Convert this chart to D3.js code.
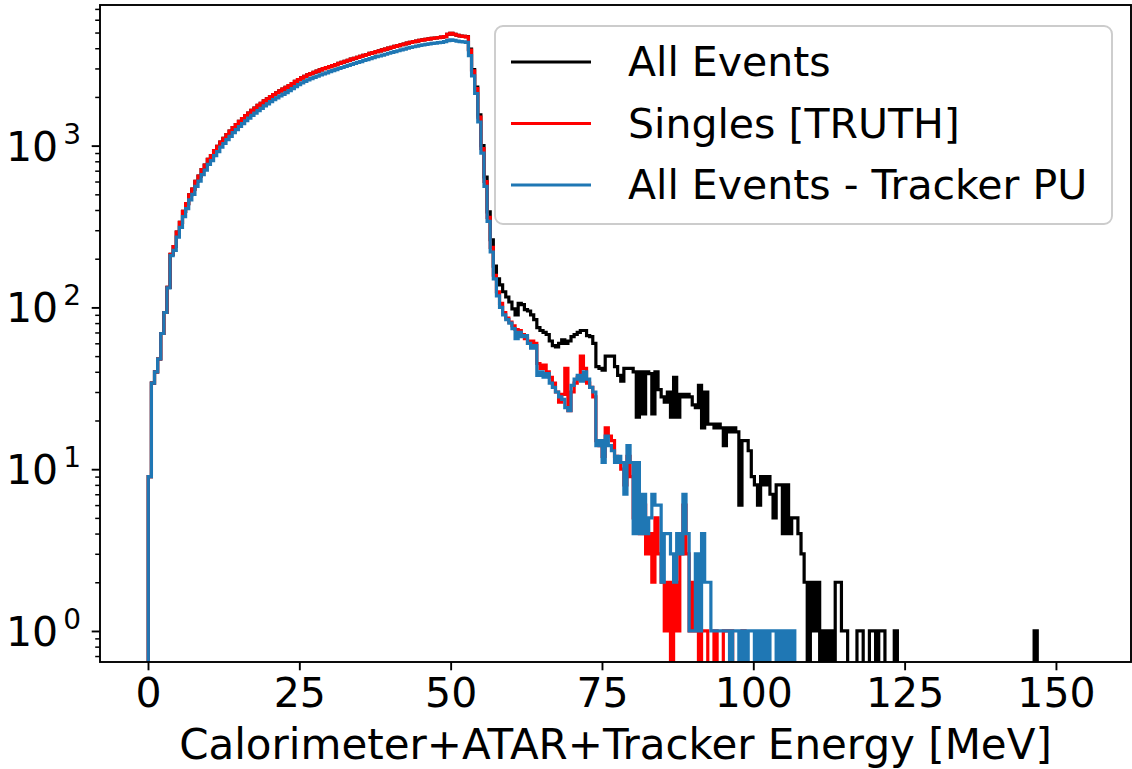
<!DOCTYPE html>
<html>
<head>
<meta charset="utf-8">
<script src="https://cdnjs.cloudflare.com/ajax/libs/d3/7.8.5/d3.min.js"></script>
<style>
body { margin: 0; background: #fff; }
svg text { font-family: "DejaVu Sans", sans-serif; fill: #000; }
</style>
</head>
<body>
<svg id="chart"></svg>
<script>
// histogram binning in MeV: 300 bins
const binStart = 0.05;
const binWidth = 0.5135;

const allEvents = [
  9, 34, 40, 48, 69, 93, 133, 213, 238, 292, 335, 392, 438, 497, 538, 602, 648, 712, 758, 822,
  868, 932, 988, 1052, 1108, 1172, 1228, 1292, 1348, 1412, 1468, 1532, 1588, 1652, 1708, 1772, 1828, 1892, 1948, 2012,
  2068, 2122, 2178, 2232, 2288, 2352, 2418, 2492, 2558, 2622, 2678, 2742, 2788, 2842, 2888, 2942, 2990, 3032, 3078, 3122,
  3168, 3222, 3268, 3322, 3368, 3422, 3468, 3512, 3558, 3612, 3658, 3712, 3762, 3812, 3848, 3902, 3948, 4002, 4048, 4102,
  4148, 4202, 4248, 4302, 4348, 4392, 4428, 4480, 4508, 4542, 4568, 4602, 4628, 4660, 4678, 4722, 4880, 4950, 4880, 4810,
  4760, 4730, 4720, 3950, 2950, 2300, 1550, 1000, 640, 390, 262, 180, 150, 138, 125, 116, 108, 98, 90, 106,
  104, 97, 95, 90, 84, 75, 72, 70, 68, 62, 58, 57, 60, 63, 60, 62, 66, 68, 70, 72,
  72, 67, 66, 60, 43, 42, 41, 50, 50, 50, 43, 38, 35, 42, 42, 42, 40, 21, 40, 22,
  40, 39, 22, 40, 31, 28, 26, 30, 21, 37, 21, 29, 28, 29, 28, 25, 24, 33, 18, 30,
  19, 19, 18, 19, 18, 14, 18, 17, 18, 17, 6, 15, 15, 13, 9, 8, 6, 9, 8, 9,
  7, 5, 8, 8, 4, 8, 4, 5, 5, 4, 3, 2, 0, 2, 1, 2, 0, 1, 0, 1,
  0, 2, 2, 1, 1, 0, 0, 0, 1, 1, 0, 0, 1, 1, 0, 1, 1, 0, 0, 0,
  1, 0, 0, 0, 0, 0, 0, 0, 0, 0, 0, 0, 0, 0, 0, 0, 0, 0, 0, 0,
  0, 0, 0, 0, 0, 0, 0, 0, 0, 0, 0, 0, 0, 0, 0, 0, 0, 0, 0, 0,
  0, 0, 0, 0, 0, 1, 0, 0, 0, 0, 0, 0, 0, 0, 0, 0, 0, 0, 0, 0
];

const singlesTruth = [
  9, 34, 40, 48, 69, 93, 133, 213, 238, 292, 335, 392, 438, 497, 538, 602, 648, 712, 758, 822,
  868, 932, 988, 1052, 1108, 1172, 1228, 1292, 1348, 1412, 1468, 1532, 1588, 1652, 1708, 1772, 1828, 1892, 1948, 2012,
  2068, 2122, 2178, 2232, 2288, 2352, 2418, 2492, 2558, 2622, 2678, 2742, 2788, 2842, 2888, 2942, 2988, 3032, 3078, 3122,
  3168, 3222, 3268, 3322, 3368, 3422, 3468, 3512, 3558, 3612, 3658, 3712, 3758, 3812, 3848, 3902, 3948, 4002, 4048, 4102,
  4148, 4202, 4248, 4302, 4348, 4392, 4428, 4472, 4508, 4542, 4568, 4602, 4628, 4652, 4678, 4722, 4880, 4950, 4880, 4810,
  4760, 4730, 4700, 3900, 2900, 2250, 1500, 960, 600, 360, 235, 158, 125, 106, 93, 86, 81, 77, 73, 72,
  68, 64, 60, 62, 60, 45, 42, 44, 40, 37, 34, 30, 26, 29, 42, 23, 30, 34, 37, 50,
  42, 34, 32, 28, 15, 14, 12, 18, 16, 15, 12, 11, 10, 8, 12, 9, 5, 9, 4, 6,
  3, 4, 2, 5, 3, 2, 1, 2, 0, 2, 1, 3, 6, 3, 1, 2, 1, 0, 1, 1,
  0, 0, 1, 0, 0, 1, 1, 1, 0, 0, 0, 1, 0, 0, 0, 0, 0, 0, 0, 0,
  0, 0, 0, 0, 0, 0, 0, 0, 0, 0, 0, 0, 0, 0, 0, 0, 0, 0, 0, 0,
  0, 0, 0, 0, 0, 0, 0, 0, 0, 0, 0, 0, 0, 0, 0, 0, 0, 0, 0, 0,
  0, 0, 0, 0, 0, 0, 0, 0, 0, 0, 0, 0, 0, 0, 0, 0, 0, 0, 0, 0,
  0, 0, 0, 0, 0, 0, 0, 0, 0, 0, 0, 0, 0, 0, 0, 0, 0, 0, 0, 0,
  0, 0, 0, 0, 0, 0, 0, 0, 0, 0, 0, 0, 0, 0, 0, 0, 0, 0, 0, 0
];

const minusTrackerPU = [
  9, 34, 40, 48, 69, 93, 132, 209, 225, 272, 312, 364, 408, 462, 500, 560, 603, 662, 705, 765,
  808, 867, 919, 979, 1031, 1090, 1142, 1202, 1254, 1313, 1366, 1425, 1477, 1537, 1589, 1648, 1700, 1760, 1812, 1872,
  1924, 1974, 2026, 2076, 2128, 2188, 2249, 2318, 2380, 2439, 2491, 2551, 2594, 2644, 2686, 2737, 2780, 2820, 2863, 2904,
  2947, 2997, 3040, 3090, 3133, 3183, 3226, 3267, 3310, 3360, 3403, 3453, 3496, 3546, 3580, 3630, 3672, 3723, 3766, 3816,
  3859, 3909, 3952, 4002, 4045, 4086, 4119, 4160, 4194, 4225, 4250, 4281, 4305, 4328, 4352, 4393, 4460, 4500, 4470, 4430,
  4400, 4380, 4350, 3600, 2700, 2100, 1400, 900, 560, 340, 220, 150, 118, 100, 90, 84, 80, 74, 64, 70,
  66, 67, 60, 56, 58, 38, 40, 37, 39, 34, 32, 30, 28, 27, 24, 23, 33, 36, 38, 35,
  40, 36, 32, 30, 14, 15, 11, 16, 14, 13, 11, 12, 11, 7, 14, 11, 4, 11, 4, 7,
  4, 5, 7, 6, 6, 2, 4, 4, 3, 2, 4, 3, 7, 4, 1, 1, 3, 1, 4, 2,
  2, 1, 1, 1, 1, 1, 1, 0, 1, 1, 0, 1, 0, 1, 1, 0, 1, 0, 1, 0,
  1, 1, 0, 1, 0, 1, 0, 1, 0, 0, 0, 0, 0, 0, 0, 0, 0, 0, 0, 0,
  0, 0, 0, 0, 0, 0, 0, 0, 0, 0, 0, 0, 0, 0, 0, 0, 0, 0, 0, 0,
  0, 0, 0, 0, 0, 0, 0, 0, 0, 0, 0, 0, 0, 0, 0, 0, 0, 0, 0, 0,
  0, 0, 0, 0, 0, 0, 0, 0, 0, 0, 0, 0, 0, 0, 0, 0, 0, 0, 0, 0,
  0, 0, 0, 0, 0, 0, 0, 0, 0, 0, 0, 0, 0, 0, 0, 0, 0, 0, 0, 0
];

const seriesNames = ["All Events", "Singles [TRUTH]", "All Events - Tracker PU"];
const seriesColors = ["#000000", "#ff0000", "#1f77b4"];
const xTicks = [0, 25, 50, 75, 100, 125, 150];
const yTicks = [1, 10, 100, 1000];
const yTickExp = ["0", "1", "2", "3"];
const xLabel = "Calorimeter+ATAR+Tracker Energy [MeV]";

const width = 1132, height = 769;
const plot = {left: 100, right: 1131, top: 5, bottom: 662};
const fontSize = 41;

const svg = d3.select("#chart")
    .attr("width", width)
    .attr("height", height);

svg.append("rect").attr("width", width).attr("height", height).attr("fill", "#fff");

const x = d3.scaleLinear().domain([-7.93, 162.4]).range([plot.left, plot.right]);
const y = d3.scaleLog().domain([0.643, 7400]).range([plot.bottom, plot.top]);

svg.append("clipPath").attr("id", "plotClip")
  .append("rect")
    .attr("x", plot.left).attr("y", plot.top)
    .attr("width", plot.right - plot.left).attr("height", plot.bottom - plot.top);

// step outline like matplotlib histtype="step"; empty bins drop below the axis
const floorY = plot.bottom + 40;
const stepLine = d3.line()
    .x(d => x(d.e))
    .y(d => d.c > 0 ? y(d.c) : floorY)
    .curve(d3.curveStepAfter);

function stepPoints(counts) {
  const pts = [{e: binStart, c: 0}];
  counts.forEach((c, i) => pts.push({e: binStart + i * binWidth, c: c}));
  const end = binStart + counts.length * binWidth;
  pts.push({e: end, c: counts[counts.length - 1]});
  pts.push({e: end, c: 0});
  return pts;
}

const lines = svg.append("g").attr("clip-path", "url(#plotClip)");
[allEvents, singlesTruth, minusTrackerPU].forEach((counts, i) => {
  lines.append("path")
    .attr("d", stepLine(stepPoints(counts)))
    .attr("fill", "none")
    .attr("stroke", seriesColors[i])
    .attr("stroke-width", 3.2)
    .attr("stroke-linejoin", "miter");
});

// x axis
const xAxis = svg.append("g")
    .attr("transform", "translate(0," + plot.bottom + ")")
    .call(d3.axisBottom(x).tickValues(xTicks).tickSize(8.3).tickFormat(d3.format("d")));
xAxis.select(".domain").remove();
xAxis.selectAll("line").attr("stroke", "#000").attr("stroke-width", 1.9);
xAxis.selectAll("text")
    .attr("y", 45).attr("dy", null)
    .attr("font-size", fontSize)
    .style("font-family", "DejaVu Sans");

// y axis: minor ticks from the log scale, majors at decades
const minorTicks = y.ticks().filter(t => yTicks.indexOf(t) < 0);
const yMinor = svg.append("g")
    .attr("transform", "translate(" + plot.left + ",0)")
    .call(d3.axisLeft(y).tickValues(minorTicks).tickSize(4.8).tickFormat(""));
yMinor.select(".domain").remove();
yMinor.selectAll("line").attr("stroke", "#000").attr("stroke-width", 1.5);

const yMajor = svg.append("g")
    .attr("transform", "translate(" + plot.left + ",0)")
    .call(d3.axisLeft(y).tickValues(yTicks).tickSize(8.3).tickFormat(""));
yMajor.select(".domain").remove();
yMajor.selectAll("line").attr("stroke", "#000").attr("stroke-width", 1.9);

yTicks.forEach((t, i) => {
  const label = svg.append("text")
      .attr("x", plot.left - 19)
      .attr("y", y(t) + 15)
      .attr("text-anchor", "end")
      .attr("font-size", fontSize);
  label.append("tspan").text("10");
  label.append("tspan")
      .attr("dx", 5)
      .attr("dy", -17)
      .attr("font-size", 28)
      .text(yTickExp[i]);
});

// frame
svg.append("rect")
    .attr("x", plot.left).attr("y", plot.top)
    .attr("width", plot.right - plot.left).attr("height", plot.bottom - plot.top)
    .attr("fill", "none")
    .attr("stroke", "#000")
    .attr("stroke-width", 1.9);

svg.append("text")
    .attr("x", (plot.left + plot.right) / 2)
    .attr("y", 759)
    .attr("text-anchor", "middle")
    .attr("font-size", 42)
    .text(xLabel);

// legend
const legend = svg.append("g");
legend.append("rect")
    .attr("x", 495).attr("y", 26)
    .attr("width", 617).attr("height", 198)
    .attr("rx", 8)
    .attr("fill", "#fff").attr("fill-opacity", 0.8)
    .attr("stroke", "#cccccc").attr("stroke-width", 1.9);

seriesNames.forEach((name, i) => {
  const cy = 62 + i * 61.5;
  legend.append("line")
      .attr("x1", 511).attr("x2", 591)
      .attr("y1", cy).attr("y2", cy)
      .attr("stroke", seriesColors[i])
      .attr("stroke-width", 3.2);
  legend.append("text")
      .attr("x", 628)
      .attr("y", cy + 14)
      .attr("font-size", fontSize)
      .text(name);
});
</script>
</body>
</html>
